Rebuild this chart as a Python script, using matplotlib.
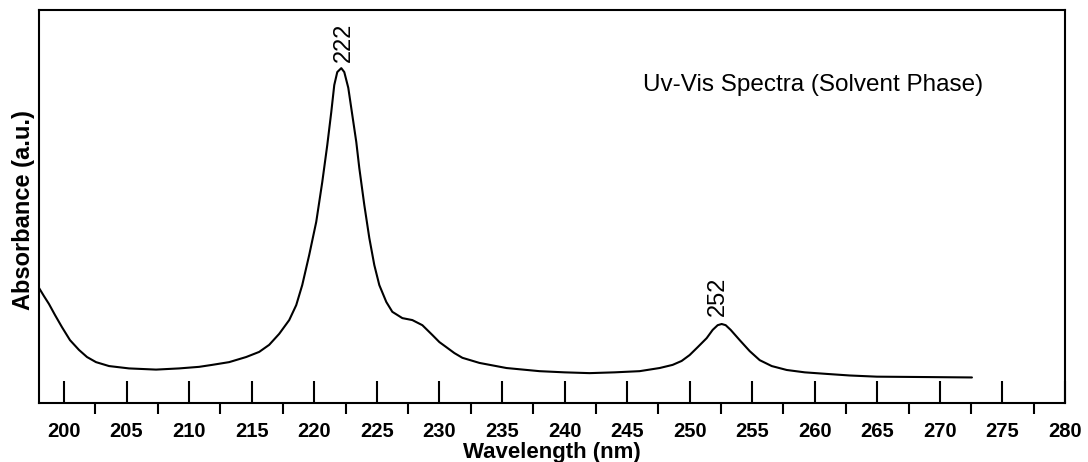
"""UV-Vis absorbance spectrum (solvent phase) with two labelled peaks."""

import matplotlib

matplotlib.use("Agg")
import matplotlib.pyplot as plt
from matplotlib.ticker import MultipleLocator

plt.rcParams["font.family"] = ["Liberation Sans", "DejaVu Sans"]

# wavelength (nm) and absorbance (a.u., arbitrary scale)
wavelength = [198.0, 198.4, 198.8, 199.28, 199.84, 200.48, 201.2, 201.84, 202.56,
              203.6, 205.2, 207.36, 209.2, 210.8, 211.84, 213.2, 214.56, 215.6,
              216.4, 217.2, 218.0, 218.56, 219.04, 219.6, 220.16, 220.64, 221.04,
              221.36, 221.6, 221.84, 222.16, 222.4, 222.72, 223.04, 223.36, 223.6,
              224.0, 224.4, 224.8, 225.2, 225.76, 226.24, 227.04, 227.84, 228.64,
              229.44, 230.0, 230.56, 231.2, 231.84, 233.2, 235.36, 238.0, 240.0,
              242.0, 244.0, 246.0, 247.6, 248.64, 249.36, 250.0, 250.64, 251.36,
              251.84, 252.24, 252.56, 252.88, 253.28, 254.0, 254.8, 255.6, 256.56,
              257.76, 259.2, 260.96, 262.8, 264.96, 268.96, 272.56]
absorbance = [0.293, 0.272, 0.252, 0.224, 0.193, 0.160, 0.135, 0.117, 0.104,
              0.094, 0.088, 0.085, 0.088, 0.092, 0.097, 0.104, 0.117, 0.130,
              0.148, 0.176, 0.211, 0.249, 0.300, 0.377, 0.461, 0.562, 0.656,
              0.740, 0.809, 0.842, 0.852, 0.842, 0.802, 0.733, 0.664, 0.598,
              0.504, 0.420, 0.351, 0.300, 0.257, 0.232, 0.216, 0.211, 0.198,
              0.173, 0.155, 0.142, 0.127, 0.115, 0.102, 0.089, 0.081, 0.078,
              0.076, 0.078, 0.081, 0.089, 0.097, 0.107, 0.122, 0.142, 0.165,
              0.186, 0.198, 0.201, 0.198, 0.186, 0.160, 0.132, 0.109, 0.094,
              0.084, 0.078, 0.074, 0.070, 0.067, 0.066, 0.065]

peak_pos = [222.4, 252.24]
peak_top = [0.868, 0.221]
peak_text = ["222", "252"]

fig = plt.figure(figsize=(10.88, 4.62), dpi=100)
ax = fig.add_axes([0.0358, 0.1277, 0.9431, 0.8507])

ax.plot(wavelength, absorbance, color="black", lw=1.5,
        solid_joinstyle="round", solid_capstyle="round")
for x, y, t in zip(peak_pos, peak_top, peak_text):
    ax.text(x, y, t, rotation=90, ha="center", va="bottom", fontsize=17)

ax.text(0.589, 0.809, "Uv-Vis Spectra (Solvent Phase)", transform=ax.transAxes,
        ha="left", va="center", fontsize=17.5)

ax.set_xlim(198, 280)
ax.set_ylim(0, 1)
ax.xaxis.set_major_locator(MultipleLocator(5))
ax.xaxis.set_minor_locator(MultipleLocator(2.5))
ax.tick_params(axis="x", which="major", direction="in", length=16, width=1.5,
               pad=14, labelsize=14.5)
ax.tick_params(axis="x", which="minor", direction="out", length=8, width=1.5)
for lab in ax.get_xticklabels():
    lab.set_fontweight("bold")
ax.set_yticks([])
for s in ax.spines.values():
    s.set_linewidth(1.5)

ax.set_xlabel("Wavelength (nm)", fontsize=16, fontweight="bold", va="baseline")
ax.xaxis.set_label_coords(0.5, -0.14)
ax.set_ylabel("Absorbance (a.u.)", fontsize=17, fontweight="bold")
ax.yaxis.set_label_coords(-0.004, 0.49)

fig.savefig("out.png", dpi=100)
